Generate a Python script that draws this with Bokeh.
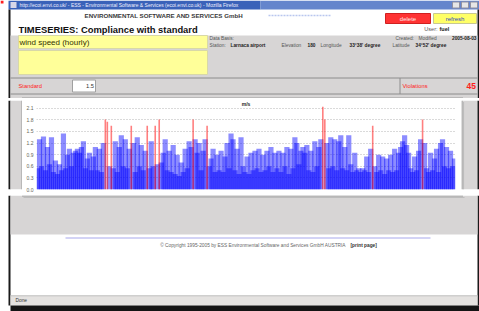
from bokeh.plotting import figure
from bokeh.layouts import column, row
from bokeh.models import Range1d, ColumnDataSource, FixedTicker, PrintfTickFormatter, Label
from bokeh.core.properties import value
from bokeh.embed import file_html
from bokeh.resources import INLINE

# ---------------- data ----------------
speed_part1 = [0.55, 1.30, 0.60, 1.37, 0.50, 1.10, 0.65, 1.35, 0.45, 0.75, 0.40, 0.65, 0.50, 1.45, 0.55,
               0.90, 1.05, 0.60, 0.95, 1.00, 1.05, 0.95, 1.10, 1.25, 0.55, 0.80, 0.95, 0.50, 0.85, 1.10]
speed_part2 = [0.50, 1.05, 0.45, 1.20, 1.81, 1.75, 0.60, 1.65, 0.55, 1.25, 0.45, 1.10, 1.40, 0.60, 1.30,
               0.55, 1.05, 1.65, 1.20, 0.45, 1.35, 0.60, 1.15, 0.50, 1.00, 1.65, 0.55, 1.25, 0.60, 1.65]
speed_part3 = [0.65, 1.81, 0.70, 0.95, 1.30, 0.50, 1.00, 0.45, 1.15, 0.40, 0.90, 0.35, 0.70, 0.45, 1.05,
               0.55, 1.25, 1.10, 1.81, 1.30, 0.95, 1.20, 0.50, 1.00, 1.30, 1.65, 0.60, 0.80, 1.05, 0.45]
speed_part4 = [0.90, 0.50, 1.00, 0.45, 0.85, 1.20, 0.55, 1.45, 1.30, 0.50, 1.05, 0.40, 1.35, 0.60, 0.45,
               0.85, 0.40, 0.95, 0.50, 1.00, 0.55, 1.05, 0.45, 0.90, 0.50, 1.00, 0.60, 1.10, 0.45, 0.95]
speed_part5 = [0.55, 1.00, 0.45, 0.95, 0.60, 1.10, 0.40, 1.05, 0.55, 1.35, 1.20, 0.65, 1.00, 1.10, 0.95,
               1.15, 0.50, 1.00, 0.45, 1.25, 0.60, 1.10, 1.30, 2.14, 1.81, 1.20, 0.55, 1.35, 0.60, 1.30]
speed_part6 = [0.50, 1.25, 1.40, 0.55, 1.10, 0.50, 1.40, 0.65, 0.45, 0.95, 0.50, 0.55, 0.45, 0.55, 0.50,
               0.85, 0.45, 1.05, 1.65, 0.60, 0.45, 0.90, 0.50, 0.85, 0.40, 0.80, 0.50, 0.90, 0.45, 1.05]
speed_part7 = [0.50, 0.95, 1.10, 1.25, 1.40, 1.15, 0.95, 0.55, 0.45, 0.85, 0.50, 1.00, 1.30, 1.81, 1.20,
               0.55, 0.45, 0.95, 0.50, 0.80, 1.05, 0.45, 1.20, 1.30, 0.60, 1.10, 0.55, 1.00, 0.60, 0.80]

standard = 1.5
y_ticks = [0.0, 0.3, 0.6, 0.9, 1.2, 1.5, 1.8, 2.1]
violations = 45
unit_label = "m/s"
parameter_name = "wind speed (hourly)"

speed = speed_part1 + speed_part2 + speed_part3 + speed_part4 + speed_part5 + speed_part6 + speed_part7
hours = list(range(len(speed)))

ok_x = [h for h, v in zip(hours, speed) if v <= standard]
ok_v = [v for v in speed if v <= standard]
bad_x = [h for h, v in zip(hours, speed) if v > standard]
bad_v = [v for v in speed if v > standard]

# ---------------- layout helpers ----------------
FONT = value("Liberation Sans")
W, H = 479, 311
HDR_H, MID_H, FTR_H = 98, 97, 116
LEFT_W, CHART_W, RIGHT_W = 22, 439, 18
y_hdr = (0.0, HDR_H)
y_mid = (HDR_H, HDR_H + MID_H)
y_ftr = (HDR_H + MID_H, H)
x_left = (0.0, LEFT_W)
x_right = (LEFT_W + CHART_W, W)

PANEL = "#d7d5d5"
BOXLINE = "#9a9a9a"


def page_fig(w, h, xr, yr):
    f = figure(width=w, height=h, x_range=Range1d(xr[0], xr[1]), y_range=Range1d(yr[1], yr[0]),
               x_axis_type=None, y_axis_type=None, output_backend="svg",
               toolbar_location=None, min_border=0)
    f.outline_line_color = None
    f.background_fill_color = "white"
    f.border_fill_color = "white"
    f.grid.visible = False
    return f


def box(f, l, r, t, b, color, line=None):
    f.quad(left=[l], right=[r], top=[t], bottom=[b], fill_color=color,
           line_color=line, line_width=1)


def hline(f, x0, x1, y, color, width=1, dash="solid"):
    f.segment(x0=[x0], x1=[x1], y0=[y], y1=[y], line_color=color, line_width=width, line_dash=dash)


def vline(f, x, y0, y1, color, width=1):
    f.segment(x0=[x], x1=[x], y0=[y0], y1=[y1], line_color=color, line_width=width)


def txt(f, x, y, s, size, color="#333333", bold=False, align="left"):
    f.text(x=[x], y=[y], text=[s], text_font=FONT, text_font_size=f"{size}px",
           text_color=color, text_font_style="bold" if bold else "normal",
           text_align=align, text_baseline="middle")


def frame_edges(f, y0, y1):
    box(f, 8, 10, y0, y1, "#1a1a1a")
    box(f, 477, 479, y0, y1, "#1a1a1a")


# ---------------- header ----------------
hdr = page_fig(W, HDR_H, (0, W), y_hdr)
box(hdr, 8, 260, 0, 9, "#3a62b9")
box(hdr, 260, 479, 0, 9, "#6585cc")
box(hdr, 10, 16, 1.5, 7.5, "#d8d8e8")
txt(hdr, 19, 4.6, "http://ecoi.envi.co.uk/ - ESS - Environmental Software & Services (ecoi.envi.co.uk) - Mozilla Firefox",
    5, "#f0f0ff")
for bx in (452, 461, 470):
    box(hdr, bx, bx + 7, 1.5, 7.5, "#e6e6e6", "#9090a0")
box(hdr, 8, 10, 9, y_hdr[1], "#1a1a1a")
box(hdr, 477, 479, 9, y_hdr[1], "#1a1a1a")
box(hdr, 0, 3, 0, 3, "#ff2020")

txt(hdr, 84, 15, "ENVIRONMENTAL SOFTWARE AND SERVICES GmbH", 6.2, "#3a3a3a", bold=True)
hline(hdr, 268, 330, 15, "#b9c6ee", 1.5, "2 1")
box(hdr, 385, 430, 13, 23, "#ff3333", "#d02020")
txt(hdr, 407.5, 18.2, "delete", 6, "#ffe8e8", align="center")
box(hdr, 433, 476, 13, 23, "#ffff66", "#c8c890")
txt(hdr, 454.5, 18.2, "refresh", 6, "#3048c0", align="center")
txt(hdr, 437, 28, "User:", 5.5, "#555555", align="right")
txt(hdr, 439, 28, "fuel", 5.5, "#222222", bold=True)
txt(hdr, 18, 29, "TIMESERIES: Compliance with standard", 9.4, "#111111", bold=True)

box(hdr, 10, 477, 35, y_hdr[1], PANEL)
box(hdr, 18, 207, 35, 48, "#ffff99", "#d8d8a8")
box(hdr, 18, 207, 50, 74, "#ffff99", "#d8d8a8")
txt(hdr, 19, 41.5, parameter_name, 8, "#333300")

txt(hdr, 209, 37.5, "Data Basis:", 4.8, "#555555")
txt(hdr, 395, 37.5, "Created:", 4.8, "#555555")
txt(hdr, 418, 37.5, "Modified", 4.8, "#555555")
txt(hdr, 476, 37.5, "2005-08-03", 4.8, "#222222", bold=True, align="right")
txt(hdr, 209, 44.5, "Station:", 4.8, "#555555")
txt(hdr, 230, 44.5, "Larnaca airport", 4.8, "#222222", bold=True)
txt(hdr, 281, 44.5, "Elevation", 4.8, "#555555")
txt(hdr, 307, 44.5, "180", 4.8, "#222222", bold=True)
txt(hdr, 320, 44.5, "Longitude", 4.8, "#555555")
txt(hdr, 349, 44.5, "33\u00b038' degree", 4.8, "#222222", bold=True)
txt(hdr, 392, 44.5, "Latitude", 4.8, "#555555")
txt(hdr, 415, 44.5, "34\u00b052' degree", 4.8, "#222222", bold=True)

hline(hdr, 10, 477, 77.5, "#8c8c8c")
hline(hdr, 10, 477, 93.5, "#8c8c8c")
vline(hdr, 399.5, 77.5, 93.5, "#8c8c8c")
txt(hdr, 18, 85.5, "Standard", 5.8, "#ff2020")
box(hdr, 72, 95, 79.5, 91.5, "white", "#a0a0a0")
txt(hdr, 93.5, 85.7, f"{standard:.1f}", 5.8, "#333333", align="right")
txt(hdr, 402, 85.5, "Violations", 5.8, "#ff2020")
txt(hdr, 475.5, 85.5, str(violations), 8.5, "#ff2020", bold=True, align="right")
hline(hdr, 21.5, 462.5, 97.5, BOXLINE, 1)

# ---------------- middle band ----------------
left = page_fig(LEFT_W, MID_H, x_left, y_mid)
frame_edges(left, y_mid[0], y_mid[1])
box(left, 10, x_left[1], y_mid[0], y_mid[1], PANEL)
vline(left, 21.5, y_mid[0], y_mid[1], BOXLINE, 1)

right = page_fig(RIGHT_W, MID_H, x_right, y_mid)
box(right, x_right[0], 477, y_mid[0], y_mid[1], PANEL)
frame_edges(right, y_mid[0], y_mid[1])
vline(right, 461.5, y_mid[0], y_mid[1], BOXLINE, 1)
vline(right, 463.0, y_mid[0] + 1.5, y_mid[1], "#bcbcbc", 1.2)

p = figure(width=CHART_W, height=MID_H, x_range=Range1d(-0.5, len(speed) - 0.5),
           y_range=Range1d(0, 2.3), x_axis_type=None, output_backend="svg",
           toolbar_location=None, min_border_left=14, min_border_right=6,
           min_border_top=2, min_border_bottom=6)
p.outline_line_color = None
p.background_fill_color = "white"
p.border_fill_color = "white"
p.xgrid.visible = False
p.ygrid.grid_line_color = "#b4b4b4"
p.ygrid.grid_line_dash = "1 2"
p.yaxis.ticker = FixedTicker(ticks=y_ticks)
p.yaxis.formatter = PrintfTickFormatter(format="%.1f")
p.yaxis.axis_line_color = None
p.yaxis.major_tick_line_color = None
p.yaxis.minor_tick_line_color = None
p.yaxis.major_tick_in = 0
p.yaxis.major_tick_out = 0
p.yaxis.major_label_standoff = 3
p.yaxis.major_label_text_font = "Liberation Sans"
p.yaxis.major_label_text_font_size = "5px"
p.yaxis.major_label_text_color = "#666655"

ok_src = ColumnDataSource(dict(x=ok_x, top=ok_v))
bad_src = ColumnDataSource(dict(x=bad_x, top=bad_v))
p.vbar(x="x", top="top", width=2.6, bottom=0, source=ok_src, fill_color="#0000ff",
       fill_alpha=0.45, line_color=None)
p.vbar(x="x", top="top", width=0.8, bottom=0, source=bad_src, fill_color="#ff0000",
       fill_alpha=0.5, line_color=None)
p.add_layout(Label(x=(len(speed) - 1) / 2, y=2.3, text=unit_label, text_font="Liberation Sans",
                   text_font_size="5px", text_color="#222222", text_align="center",
                   text_baseline="top", text_font_style="bold"))

# ---------------- footer ----------------
ftr = page_fig(W, FTR_H, (0, W), y_ftr)
frame_edges(ftr, y_ftr[0], 305)
box(ftr, 10, 477, y_ftr[0], 234, PANEL)
hline(ftr, 21.5, 462.5, 195.5, BOXLINE, 1)
hline(ftr, 23, 464, 197.0, "#bcbcbc", 1.2)
hline(ftr, 65, 430, 237.5, "#c4c4f2", 1.5)
txt(ftr, 348, 244.5, "\u00a9 Copyright 1995-2005 by ESS   Environmental Software and Services GmbH AUSTRIA",
    4.8, "#666666", align="right")
txt(ftr, 350, 244.5, "[print page]", 4.8, "#333333", bold=True)
box(ftr, 10, 477, 295, 305, "#e4e2e0")
hline(ftr, 10, 477, 295.3, "#c0c0c0")
txt(ftr, 15, 300, "Done", 4.8, "#333333")
box(ftr, 10, 479, 305, 311, "#141414")

layout = column(hdr, row(left, p, right, spacing=0), ftr, spacing=0)
open("out.html", "w").write(file_html(layout, INLINE))
